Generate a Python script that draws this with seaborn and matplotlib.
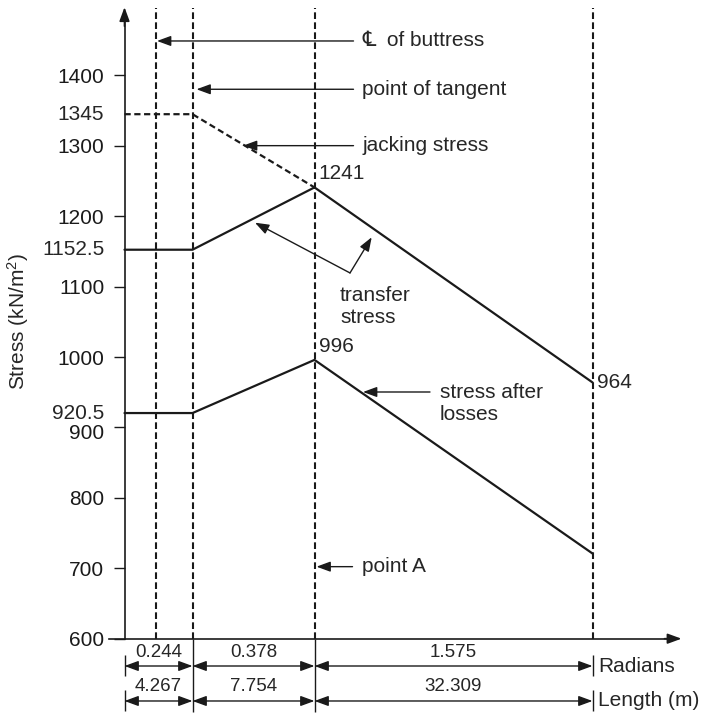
import numpy as np
import matplotlib
matplotlib.use("Agg")
import matplotlib.pyplot as plt
import matplotlib.transforms as mtransforms
import seaborn as sns

# schematic stations along the tendon (drawing units, not to scale)
stations = [0, 68, 190, 468]        # support, point of tangent, point A, end
cl_buttress = 31

jacking = [1345, 1345, 1241]
transfer = [1152.5, 1152.5, 1241, 964]
after_losses = [920.5, 920.5, 996, 721]

radians = [0.244, 0.378, 1.575]
lengths = [4.267, 7.754, 32.309]

y_ticks = [600, 700, 800, 900, 1000, 1100, 1200, 1300, 1400]
extra_labels = [1345, 1152.5, 920.5]

sns.set_theme(style="white")
plt.rcParams["font.family"] = ["Liberation Sans", "DejaVu Sans"]
plt.rcParams["mathtext.fontset"] = "custom"
plt.rcParams["mathtext.rm"] = "Liberation Sans"
plt.rcParams["mathtext.it"] = "Liberation Sans"

fig = plt.figure(figsize=(7.03, 7.15), dpi=100)
ax = fig.add_axes([0, 0, 1, 1])
ax.set_xlim(-124.5, 578.5)
ax.set_ylim(491.6, 1507.2)
ax.patch.set_alpha(0)

LW = 1.6
dash = (0, (3.2, 1.6))

# stress lines
sns.lineplot(x=stations, y=transfer, color="k", lw=LW, ax=ax, sort=False, estimator=None)
sns.lineplot(x=stations, y=after_losses, color="k", lw=LW, ax=ax, sort=False, estimator=None)
sns.lineplot(x=stations[:3], y=jacking, color="k", lw=LW, linestyle=(0, (2.8, 1.6)), ax=ax,
             sort=False, estimator=None)

# vertical reference lines
top = 1495.5
ax.vlines([cl_buttress] + stations[1:], 600, top, colors="k", lw=1.5, linestyles=[dash])
ax.vlines(stations[1:3], 495.9, 600, colors="k", lw=1.0)
for x in (stations[0], stations[-1]):
    ax.vlines(x, 547, 576.8, colors="k", lw=1.0)
    ax.vlines(x, 497, 527, colors="k", lw=1.0)

# axes with arrows
for s in ("top", "right"):
    ax.spines[s].set_visible(False)
ax.spines["left"].set_position(("data", 0))
ax.spines["bottom"].set_position(("data", 600))
ax.spines["left"].set_bounds(600, 1480)
ax.spines["bottom"].set_bounds(-16, 545)
for s in ("left", "bottom"):
    ax.spines[s].set_color("k")
    ax.spines[s].set_linewidth(1.2)
head = dict(arrowstyle="-|>,head_length=0.6,head_width=0.22", color="k", lw=1.2,
            mutation_scale=14, shrinkA=0, shrinkB=0)
ax.annotate("", xy=(0, 1497), xytext=(0, 1470), arrowprops=head)
ax.annotate("", xy=(557, 600), xytext=(540, 600), arrowprops=head)

ax.set_yticks(y_ticks)
ax.set_yticklabels([str(v) for v in y_ticks])
ax.set_xticks([])
ax.tick_params(axis="y", direction="out", length=8, width=1.0, pad=6.5,
               labelsize=15, left=True, colors="k")
for lab in ax.get_yticklabels():
    if lab.get_text() == "900":
        lab.set_transform(lab.get_transform() +
                          mtransforms.ScaledTranslation(0, -3 / 72, fig.dpi_scale_trans))
for v in extra_labels:
    ax.annotate(f"{v:g}", xy=(0, v), xytext=(-14.5, 0), textcoords="offset points",
                ha="right", va="center", fontsize=15)

ax.text(-106.5, 1050, "Stress (kN/m$^2$)", rotation=90, ha="center", va="center", fontsize=15)

# value labels
ax.annotate("1241", xy=(stations[2], transfer[2]), xytext=(3, 10), textcoords="offset points",
            ha="left", va="center", fontsize=15)
ax.annotate("996", xy=(stations[2], after_losses[2]), xytext=(3, 10), textcoords="offset points",
            ha="left", va="center", fontsize=15)
ax.annotate("964", xy=(stations[3], transfer[3]), xytext=(3, 0), textcoords="offset points",
            ha="left", va="center", fontsize=15)

# leader arrows
thin = dict(head, lw=1.0)
ax.annotate("", xy=(32.5, 1449), xytext=(229, 1449), arrowprops=thin)
ax.text(238, 1449, "\u2104  of buttress", ha="left", va="center", fontsize=15)
ax.annotate("", xy=(72, 1380.4), xytext=(229, 1380.4), arrowprops=thin)
ax.text(238, 1380.4, "point of tangent", ha="left", va="center", fontsize=15)
ax.annotate("", xy=(118.5, 1300.3), xytext=(229, 1300.3), arrowprops=thin)
ax.text(238, 1300.3, "jacking stress", ha="left", va="center", fontsize=15)
ax.annotate("", xy=(130.5, 1190.9), xytext=(225.5, 1119.5), arrowprops=thin)
ax.annotate("", xy=(247.2, 1170.2), xytext=(225.5, 1119.5), arrowprops=thin)
ax.text(215.5, 1072, "transfer\nstress", ha="left", va="center", fontsize=15, linespacing=1.15)
ax.annotate("", xy=(238.5, 950.4), xytext=(305.5, 950.4), arrowprops=thin)
ax.text(315.5, 934, "stress after\nlosses", ha="left", va="center", fontsize=15, linespacing=1.15)
ax.annotate("", xy=(192, 702.3), xytext=(228, 702.3), arrowprops=thin)
ax.text(237, 702.3, "point A", ha="left", va="center", fontsize=15)

# dimension rows
dim = dict(arrowstyle="<|-|>,head_length=0.6,head_width=0.22", color="k", lw=1.0,
           mutation_scale=14, shrinkA=0, shrinkB=0)
edges = stations
for row_y, lab_y, vals, name in ((561.2, 580.9, radians, "Radians"),
                                 (511.5, 531.4, lengths, "Length (m)")):
    for i, v in enumerate(vals):
        x0, x1 = edges[i], edges[i + 1]
        ax.annotate("", xy=(x0, row_y), xytext=(x1, row_y), arrowprops=dim)
        ax.text((x0 + x1) / 2, lab_y, f"{v:.3f}", ha="center", va="center", fontsize=13.5)
    ax.text(473.5, row_y, name, ha="left", va="center", fontsize=15)

fig.savefig("out.png", dpi=100)
